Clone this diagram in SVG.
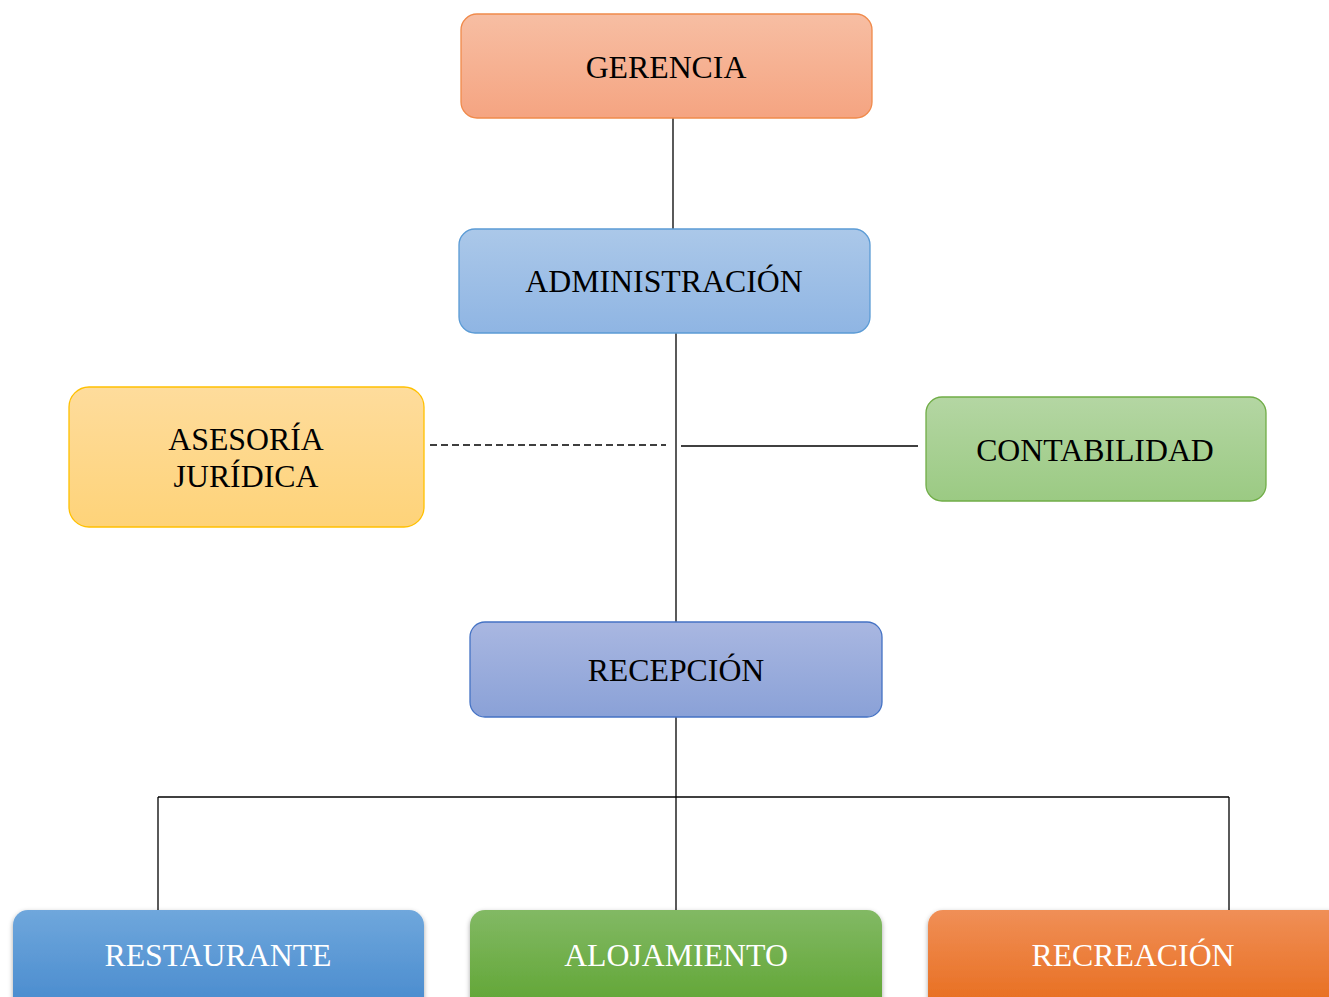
<svg xmlns="http://www.w3.org/2000/svg" width="1329" height="997" viewBox="0 0 1329 997">
<style>
.t{font-family:"Liberation Serif","Times New Roman",serif;font-size:31.8px;text-anchor:middle;fill:#000}
.w{fill:#fff}
.c{stroke:#000;stroke-width:1.3;fill:none}
</style>
<defs>
<linearGradient id="gO" x1="0" y1="0" x2="0" y2="1"><stop offset="0" stop-color="#f7bea3"/><stop offset="1" stop-color="#f5a481"/></linearGradient>
<linearGradient id="gB" x1="0" y1="0" x2="0" y2="1"><stop offset="0" stop-color="#abc8e9"/><stop offset="1" stop-color="#8fb5e3"/></linearGradient>
<linearGradient id="gY" x1="0" y1="0" x2="0" y2="1"><stop offset="0" stop-color="#fedc9c"/><stop offset="1" stop-color="#fed379"/></linearGradient>
<linearGradient id="gG" x1="0" y1="0" x2="0" y2="1"><stop offset="0" stop-color="#b4d6a3"/><stop offset="1" stop-color="#9bca83"/></linearGradient>
<linearGradient id="gP" x1="0" y1="0" x2="0" y2="1"><stop offset="0" stop-color="#a9b7e1"/><stop offset="1" stop-color="#8aa1d7"/></linearGradient>
<linearGradient id="gB2" x1="0" y1="0" x2="0" y2="1"><stop offset="0" stop-color="#6fa7dc"/><stop offset="1" stop-color="#4689cd"/></linearGradient>
<linearGradient id="gG2" x1="0" y1="0" x2="0" y2="1"><stop offset="0" stop-color="#82b964"/><stop offset="1" stop-color="#5ea431"/></linearGradient>
<linearGradient id="gO2" x1="0" y1="0" x2="0" y2="1"><stop offset="0" stop-color="#f08f57"/><stop offset="1" stop-color="#e76b1a"/></linearGradient>
<filter id="sh" x="-5%" y="-10%" width="110%" height="130%"><feDropShadow dx="0" dy="2" stdDeviation="2.5" flood-color="#000" flood-opacity="0.35"/></filter>
</defs>
<g id="connectors">
<line class="c" x1="673" y1="118" x2="673" y2="229"/>
<line class="c" x1="676" y1="333" x2="676" y2="622"/>
<line class="c" x1="430" y1="445" x2="666" y2="445" stroke-dasharray="7,4"/>
<line class="c" x1="681" y1="446" x2="918" y2="446"/>
<line class="c" x1="676" y1="717" x2="676" y2="910"/>
<line class="c" x1="158" y1="797" x2="1229" y2="797"/>
<line class="c" x1="158" y1="797" x2="158" y2="911"/>
<line class="c" x1="1229" y1="797" x2="1229" y2="910"/>
</g>
<g id="gerencia">
<rect x="461" y="14" width="411" height="104" rx="16" fill="url(#gO)" stroke="#f08a4b" stroke-width="1.3"/>
<text class="t" x="666" y="78">GERENCIA</text>
</g>
<g id="administracion">
<rect x="459" y="229" width="411" height="104" rx="16" fill="url(#gB)" stroke="#5b9bd5" stroke-width="1.3"/>
<text class="t" x="664" y="292">ADMINISTRACIÓN</text>
</g>
<g id="asesoria">
<rect x="69" y="387" width="355" height="140" rx="20" fill="url(#gY)" stroke="#ffc000" stroke-width="1.3"/>
<text class="t" x="246" y="450">ASESORÍA</text>
<text class="t" x="246" y="487">JURÍDICA</text>
</g>
<g id="contabilidad">
<rect x="926" y="397" width="340" height="104" rx="16" fill="url(#gG)" stroke="#70ad47" stroke-width="1.3"/>
<text class="t" x="1095" y="461">CONTABILIDAD</text>
</g>
<g id="recepcion">
<rect x="470" y="622" width="412" height="95" rx="15" fill="url(#gP)" stroke="#4472c4" stroke-width="1.3"/>
<text class="t" x="676" y="681">RECEPCIÓN</text>
</g>
<g id="restaurante">
<rect x="13" y="910" width="411" height="104" rx="15" fill="url(#gB2)" filter="url(#sh)"/>
<text class="t w" x="218" y="966">RESTAURANTE</text>
</g>
<g id="alojamiento">
<rect x="470" y="910" width="412" height="104" rx="15" fill="url(#gG2)" filter="url(#sh)"/>
<text class="t w" x="676" y="966">ALOJAMIENTO</text>
</g>
<g id="recreacion">
<rect x="928" y="910" width="415" height="104" rx="15" fill="url(#gO2)" filter="url(#sh)"/>
<text class="t w" x="1133" y="966">RECREACIÓN</text>
</g>
</svg>
